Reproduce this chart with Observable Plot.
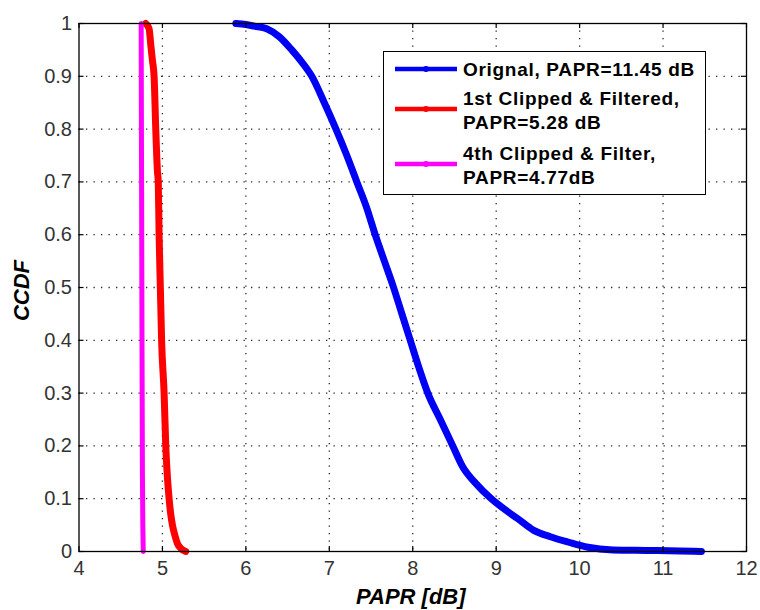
<!DOCTYPE html>
<html>
<head>
<meta charset="utf-8">
<script src="https://cdn.jsdelivr.net/npm/d3@7"></script>
<script src="https://cdn.jsdelivr.net/npm/@observablehq/plot@0.6"></script>
<style>
  body { margin: 0; background: #fff; }
  #wrap { position: relative; width: 760px; height: 610px; overflow: hidden; }
  #legend { position: absolute; left: 383px; top: 51px; width: 323px; height: 144px;
            border: 1.5px solid #000; background: #fff; box-sizing: border-box;
            font: bold 19px "Liberation Sans", Arial, sans-serif; color: #000; letter-spacing: 0.7px; }
  .entry { position: absolute; left: 79px; line-height: 23.5px; white-space: nowrap; }
  .sw { position: absolute; left: 10px; }
</style>
</head>
<body>
<div id="wrap"><div id="legend"></div></div>
<script>
// ---- data ----
const xTicks = [4, 5, 6, 7, 8, 9, 10, 11, 12];
const yTicks = [0, 0.1, 0.2, 0.3, 0.4, 0.5, 0.6, 0.7, 0.8, 0.9, 1];
const yTickLabels = ["0", "0.1", "0.2", "0.3", "0.4", "0.5", "0.6", "0.7", "0.8", "0.9", "1"];

const seriesNames = ["Orignal", "1st Clipped & Filtered", "4th Clipped & Filter"];
const seriesColors = ["#0000f5", "#ff0000", "#ff00ff"];
const legendLines = [
  ["Orignal, PAPR=11.45 dB"],
  ["1st Clipped & Filtered,", "PAPR=5.28 dB"],
  ["4th Clipped & Filter,", "PAPR=4.77dB"]
];

const blueX = [5.88, 6.0, 6.1, 6.25, 6.4, 6.55, 6.68, 6.79, 6.94, 7.08, 7.21, 7.33, 7.45, 7.55, 7.66, 7.77, 7.87, 7.97, 8.07, 8.18, 8.33, 8.48, 8.6, 8.75, 8.94, 9.1, 9.26, 9.45, 9.65, 9.86, 10.1, 10.4, 10.8, 11.2, 11.46];
const blueY = [1.0, 0.998, 0.995, 0.99, 0.975, 0.95, 0.925, 0.9, 0.85, 0.8, 0.75, 0.7, 0.65, 0.6, 0.55, 0.5, 0.45, 0.4, 0.35, 0.3, 0.25, 0.2, 0.16, 0.13, 0.1, 0.08, 0.062, 0.04, 0.028, 0.018, 0.008, 0.003, 0.002, 0.001, 0.0];

const redX = [4.80, 4.84, 4.86, 4.88, 4.90, 4.92, 4.94, 4.95, 4.96, 4.975, 4.99, 5.02, 5.04, 5.06, 5.08, 5.10, 5.12, 5.15, 5.18, 5.22, 5.28];
const redY = [1.0, 0.99, 0.96, 0.93, 0.9, 0.8, 0.72, 0.7, 0.6, 0.5, 0.4, 0.3, 0.2, 0.14, 0.1, 0.07, 0.05, 0.03, 0.015, 0.006, 0.0];

const magX = [4.745, 4.75, 4.755, 4.76, 4.765, 4.77];
const magY = [1.0, 0.7, 0.4, 0.15, 0.05, 0.0];

// ---- build ----
const FONT = '"Liberation Sans", Arial, Helvetica, sans-serif';
const W = 760, H = 610, mL = 78.5, mR = 14, mT = 23, mB = 59;
const plotW = W - mL - mR, plotH = H - mT - mB;

const toPts = (xs, ys) => xs.map((x, i) => ({x, y: ys[i]}));
const series = [toPts(blueX, blueY), toPts(redX, redY), toPts(magX, magY)];
const widths = [7, 7, 5];

const gridStyle = {stroke: "#000", strokeOpacity: 0.85, strokeWidth: 1.3, strokeDasharray: "1.3,6.2"};
const tickStyle = {stroke: "#000", strokeWidth: 1.2};

const chart = Plot.plot({
  width: W, height: H,
  marginLeft: mL, marginRight: mR, marginTop: mT, marginBottom: mB,
  style: {fontFamily: FONT, background: "#fff", overflow: "visible"},
  x: {domain: [4, 12]},
  y: {domain: [0, 1]},
  marks: [
    Plot.gridX(xTicks.filter(t => t > 4 && t < 12), gridStyle),
    Plot.gridY(yTicks.filter(t => t > 0 && t < 1), gridStyle),
    ...series.map((pts, i) => Plot.line(pts, {x: "x", y: "y", curve: "monotone-x", stroke: seriesColors[i], strokeWidth: widths[i], strokeLinejoin: "round", strokeLinecap: "round"})),
    Plot.frame({stroke: "#000", strokeWidth: 1.3}),
    // inward ticks on all four sides
    Plot.ruleX(xTicks, {x: d => d, y1: 1, y2: 0, insetTop: plotH - 5, ...tickStyle}),
    Plot.ruleX(xTicks, {x: d => d, y1: 1, y2: 0, insetBottom: plotH - 5, ...tickStyle}),
    Plot.ruleY(yTicks, {y: d => d, x1: 4, x2: 12, insetRight: plotW - 5, ...tickStyle}),
    Plot.ruleY(yTicks, {y: d => d, x1: 4, x2: 12, insetLeft: plotW - 5, ...tickStyle}),
    Plot.axisX(xTicks, {tickSize: 0, tickPadding: 9, fontSize: 20, fill: "#333", label: null}),
    Plot.axisY(yTicks, {tickSize: 0, tickPadding: 7, fontSize: 20, fill: "#333", label: null,
      tickFormat: d => yTickLabels[yTicks.indexOf(d)]}),
    Plot.text(["CCDF"], {text: d => d, frameAnchor: "left", dx: -57, dy: 3, rotate: -90,
      textAnchor: "middle", lineAnchor: "middle",
      fontSize: 22, fontWeight: "bold", fontStyle: "italic", fill: "#000"}),
    Plot.text(["PAPR [dB]"], {text: d => d, frameAnchor: "bottom", dy: 45, dx: -2,
      textAnchor: "middle", lineAnchor: "middle",
      fontSize: 22, fontWeight: "bold", fontStyle: "italic", fill: "#000"})
  ]
});
document.getElementById("wrap").prepend(chart);

// legend
const legend = document.getElementById("legend");
const entryTops = [6, 35, 90];
const swatchY = [16.5, 56.5, 111.5];
legendLines.forEach((lines, i) => {
  const e = document.createElement("div");
  e.className = "entry";
  e.style.top = entryTops[i] + "px";
  e.innerHTML = lines.map(l => l.replace(/&/g, "&amp;")).join("<br>");
  legend.appendChild(e);
  const ns = "http://www.w3.org/2000/svg";
  const s = document.createElementNS(ns, "svg");
  s.setAttribute("class", "sw");
  s.setAttribute("width", 64); s.setAttribute("height", 10);
  s.style.top = (swatchY[i] - 5) + "px";
  const ln = document.createElementNS(ns, "line");
  ln.setAttribute("x1", 1); ln.setAttribute("x2", 63); ln.setAttribute("y1", 5); ln.setAttribute("y2", 5);
  ln.setAttribute("stroke", seriesColors[i]); ln.setAttribute("stroke-width", 4.5);
  s.appendChild(ln);
  const c = document.createElementNS(ns, "circle");
  c.setAttribute("cx", 32); c.setAttribute("cy", 5); c.setAttribute("r", 3);
  c.setAttribute("fill", seriesColors[i]);
  s.appendChild(c);
  legend.appendChild(s);
});
</script>
</body>
</html>
